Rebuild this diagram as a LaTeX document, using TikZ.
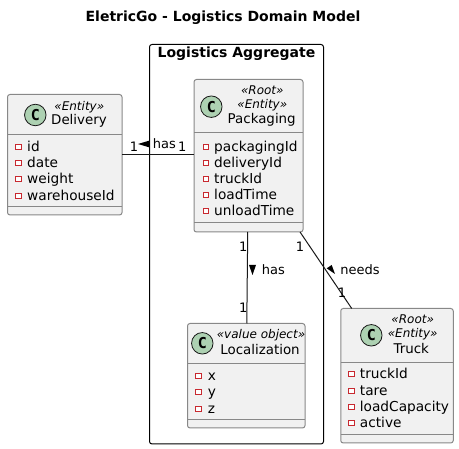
\documentclass[tikz,border=0pt]{standalone}
\usepackage{fontspec}
\setmainfont{DejaVu Sans}
\newfontfamily\spotfont{DejaVu Sans Mono}
\usetikzlibrary{positioning,calc}
\definecolor{boxfill}{HTML}{F1F1F1}
\definecolor{boxline}{HTML}{888888}
\definecolor{spotfill}{HTML}{ADD1B2}
\definecolor{markred}{HTML}{C82930}
\definecolor{linedark}{HTML}{181818}

\begin{document}
\begin{tikzpicture}[
    x=1pt, y=-1pt,
    classbox/.style={rectangle, draw=boxline, fill=boxfill, line width=1pt, rounded corners=2.5pt, outer sep=0pt, inner sep=0pt},
    aggregate/.style={rectangle, draw=black, line width=1pt, rounded corners=2.5pt, outer sep=0pt, inner sep=0pt},
    divider/.style={draw=boxline, line width=1pt},
    spot/.style={circle, draw=linedark, fill=spotfill, line width=0.8pt, minimum size=21.5pt, inner sep=0pt, font=\fontsize{15}{15}\spotfont\bfseries},
    stereo/.style={inner sep=0pt, font=\fontsize{12}{12}\selectfont\itshape},
    classname/.style={inner sep=0pt, font=\fontsize{13.4}{14}\selectfont},
    member/.style={anchor=base west, inner sep=0pt, font=\fontsize{13.7}{14}\selectfont},
    marker/.style={rectangle, draw=markred, line width=0.9pt, fill=white, minimum size=5.5pt, inner sep=0pt},
    relation/.style={draw=linedark, line width=1pt},
    tip/.style={fill=black},
    linklabel/.style={inner sep=0pt, font=\fontsize{13}{13}\selectfont}
]
\useasboundingbox (0,0) rectangle (459,449);

% Title
\node[inner sep=0pt, font=\fontsize{14}{14}\selectfont\bfseries] (title) at (223,18) {EletricGo - Logistics Domain Model};

% Aggregate frame
\node[aggregate, minimum width=174pt, minimum height=399.5pt] (frame) at (236.5,244.25) {};
\node[inner sep=0pt, font=\fontsize{14}{14}\selectfont\bfseries] (frametitle) at (236.5,54) {Logistics Aggregate};

% Delivery
\node[classbox, minimum width=114.5pt, minimum height=120.5pt] (delivery) at (64.75,154.75) {};
\node[spot] (deliveryspot) at (35.3,115) {C};
\node[stereo] (deliverystereo) at (79.3,107) {«Entity»};
\node[classname] (deliveryname) at (79,121.3) {Delivery};
\draw[divider] (delivery.west |- 0,134.5) -- (delivery.east |- 0,134.5);
\draw[divider] (delivery.west |- 0,207) -- (delivery.east |- 0,207);
\foreach \attr/\ypos in {id/152,date/168,weight/184,warehouseId/201} {
    \node[marker] (delivery-\attr-mark) at (18.3,\ypos-5) {};
    \node[member] (delivery-\attr) at (27,\ypos) {\attr};
}

% Packaging
\node[classbox, minimum width=109pt, minimum height=152.5pt] (packaging) at (248.5,155.75) {};
\node[spot] (packagingspot) at (211.3,106.7) {C};
\node[stereo] (packagingroot) at (262.3,90.7) {«Root»};
\node[stereo] (packagingstereo) at (262.3,105.3) {«Entity»};
\node[classname] (packagingname) at (261.7,120.3) {Packaging};
\draw[divider] (packaging.west |- 0,133) -- (packaging.east |- 0,133);
\draw[divider] (packaging.west |- 0,223) -- (packaging.east |- 0,223);
\foreach \attr/\ypos in {packagingId/152,deliveryId/168,truckId/184,loadTime/200,unloadTime/216} {
    \node[marker] (packaging-\attr-mark) at (205.7,\ypos-5) {};
    \node[member] (packaging-\attr) at (214,\ypos) {\attr};
}

% Localization
\node[classbox, minimum width=117.5pt, minimum height=104.5pt] (localization) at (246.25,375.75) {};
\node[spot] (localizationspot) at (202.3,343.3) {C};
\node[stereo] (localizationstereo) at (261,334.7) {«value object»};
\node[classname] (localizationname) at (260,350) {Localization};
\draw[divider] (localization.west |- 0,363.5) -- (localization.east |- 0,363.5);
\draw[divider] (localization.west |- 0,420) -- (localization.east |- 0,420);
\foreach \attr/\ypos in {x/381,y/397,z/414} {
    \node[marker] (localization-\attr-mark) at (198.3,\ypos-5) {};
    \node[member] (localization-\attr) at (207.7,\ypos) {\attr};
}

% Truck
\node[classbox, minimum width=112.5pt, minimum height=134.5pt] (truck) at (397,375.75) {};
\node[spot] (truckspot) at (371.3,335.3) {C};
\node[stereo] (truckroot) at (412.7,319.7) {«Root»};
\node[stereo] (truckstereo) at (412.7,334.3) {«Entity»};
\node[classname] (truckname) at (411.3,349) {Truck};
\draw[divider] (truck.west |- 0,362.5) -- (truck.east |- 0,362.5);
\draw[divider] (truck.west |- 0,435) -- (truck.east |- 0,435);
\foreach \attr/\ypos in {truckId/379,tare/396,loadCapacity/412,active/428} {
    \node[marker] (truck-\attr-mark) at (351.3,\ypos-5) {};
    \node[member] (truck-\attr) at (359.7,\ypos) {\attr};
}

% Relations
\draw[relation] (delivery.east |- 0,155) -- (packaging.west |- 0,155);
\draw[relation] (packaging) -- (localization);
\draw[relation] (packaging) -- (truck);

% Relation labels
\node[linklabel] (hasleftone) at (134,146.7) {1};
\node[linklabel] (hasleft) at (164.3,143.7) {has};
\node[linklabel] (hasrightone) at (182.3,146.7) {1};
\fill[tip] (149,140.7) -- (138,144) -- (149,147.3) -- cycle;
\node[linklabel] (hastopone) at (243.3,246.7) {1};
\node[linklabel] (hasdown) at (273.3,269.3) {has};
\node[linklabel] (hasbottomone) at (243.3,307.3) {1};
\fill[tip] (249,265) -- (252.5,275) -- (256,265) -- cycle;
\node[linklabel] (needstopone) at (300,246.7) {1};
\node[linklabel] (needs) at (360,269.3) {needs};
\node[linklabel] (needsbottomone) at (342,292.7) {1};
\fill[tip] (326.7,268.3) -- (331.7,265) -- (335,274) -- cycle;

\end{tikzpicture}
\end{document}
